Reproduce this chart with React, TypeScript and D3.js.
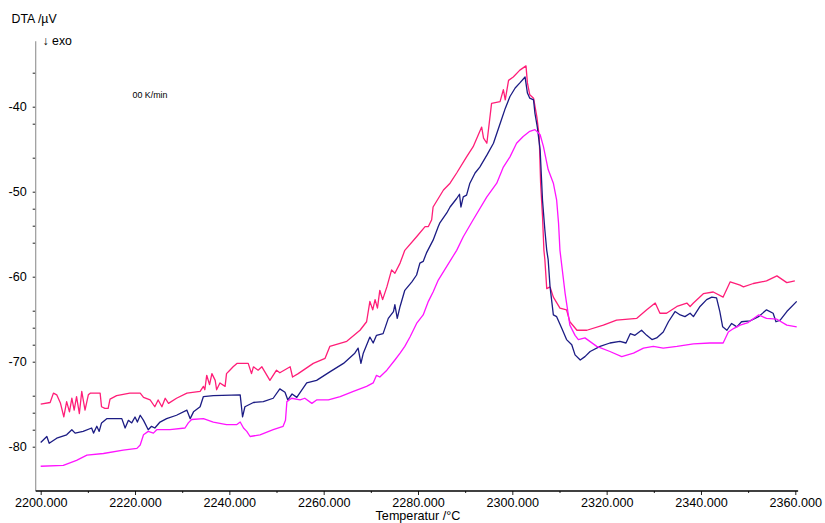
import React, { useEffect, useRef } from "react";
import * as d3 from "d3";

type Pt = [number, number];

const xTicks = [2200, 2220, 2240, 2260, 2280, 2300, 2320, 2340, 2360];
const xMinorTicks = [2210, 2230, 2250, 2270, 2290, 2310, 2330, 2350];
const yTicks = [-40, -50, -60, -70, -80];
const yMinorTicks = [-36, -42, -46, -52, -54, -56, -64, -66, -68, -74, -76, -78];

// run 1 (crimson)
const run1: Pt[] = [
  [2200.0, -75.0], [2202.0, -74.8], [2202.7, -73.7], [2203.4, -73.9], [2204.2, -74.9], [2204.9, -76.5],
  [2205.5, -74.7], [2206.1, -75.9], [2206.6, -74.3], [2207.1, -75.7], [2207.6, -74.1], [2208.2, -76.1],
  [2208.7, -73.5], [2209.4, -75.7], [2210.1, -73.9], [2210.5, -73.7], [2212.6, -73.7], [2212.9, -75.3],
  [2213.6, -75.5], [2214.3, -75.5], [2214.7, -74.4], [2216.1, -74.0], [2218.9, -73.7], [2221.1, -73.7],
  [2221.8, -74.2], [2223.2, -74.5], [2224.2, -75.3], [2224.9, -74.5], [2225.7, -75.3], [2226.4, -74.3],
  [2227.1, -74.9], [2228.8, -74.3], [2231.0, -73.7], [2233.8, -73.5], [2234.5, -72.9], [2234.8, -73.3],
  [2235.2, -71.6], [2235.8, -72.7], [2236.3, -71.4], [2237.0, -72.2], [2237.3, -73.3], [2238.0, -72.5],
  [2239.1, -72.9], [2239.4, -71.4], [2240.1, -71.0], [2240.8, -70.6], [2241.6, -70.2], [2244.0, -70.2],
  [2244.7, -71.4], [2245.1, -70.6], [2246.1, -71.0], [2246.9, -70.6], [2248.6, -72.2], [2250.0, -71.0],
  [2250.7, -71.3], [2252.9, -70.6], [2253.4, -71.8], [2254.6, -71.4], [2257.8, -70.2], [2260.3, -69.6],
  [2261.3, -68.2], [2264.9, -67.6], [2267.7, -66.3], [2269.1, -65.3], [2269.8, -62.9], [2270.4, -63.9],
  [2270.9, -62.7], [2271.4, -63.7], [2271.9, -61.6], [2272.5, -62.7], [2273.4, -61.2], [2274.4, -59.2],
  [2275.1, -59.6], [2276.2, -58.4], [2277.2, -56.9], [2279.7, -55.3], [2281.5, -54.1], [2282.2, -54.1],
  [2282.9, -53.3], [2283.2, -51.8], [2285.4, -49.8], [2286.8, -49.0], [2288.2, -47.8], [2290.3, -45.9],
  [2291.7, -44.7], [2293.5, -42.4], [2293.9, -43.7], [2294.6, -44.3], [2295.6, -39.6], [2297.4, -39.4],
  [2298.1, -38.0], [2298.5, -39.2], [2299.2, -36.9], [2300.2, -36.5], [2301.6, -35.7], [2302.9, -35.2],
  [2303.2, -37.2], [2303.7, -38.6], [2304.5, -39.0], [2305.2, -41.2], [2305.7, -43.5], [2306.0, -49.0],
  [2306.4, -52.9], [2306.7, -56.9], [2306.9, -58.0], [2307.3, -61.4], [2308.0, -61.2], [2308.7, -62.4],
  [2310.1, -63.7], [2311.5, -63.9], [2312.2, -65.3], [2313.7, -66.3], [2315.8, -66.3], [2319.3, -65.7],
  [2322.1, -65.1], [2326.4, -64.9], [2328.5, -63.9], [2330.3, -63.1], [2331.3, -64.3], [2332.7, -64.3],
  [2334.9, -63.5], [2337.0, -63.1], [2337.7, -63.5], [2338.4, -63.1], [2340.5, -62.0], [2342.6, -61.8],
  [2344.7, -62.4], [2346.2, -60.6], [2348.3, -61.0], [2349.0, -61.2], [2351.1, -60.8], [2353.9, -60.5],
  [2356.1, -59.9], [2358.2, -60.7], [2359.9, -60.5],
];

// run 2 (navy)
const run2: Pt[] = [
  [2200.0, -79.5], [2201.3, -78.8], [2201.8, -79.6], [2203.4, -79.0], [2205.5, -78.6], [2206.6, -78.0],
  [2207.3, -78.4], [2209.0, -78.2], [2210.8, -77.8], [2211.2, -78.4], [2211.9, -77.6], [2212.4, -78.2],
  [2212.9, -77.2], [2214.0, -76.7], [2217.2, -76.7], [2217.9, -77.8], [2218.6, -76.9], [2219.3, -77.2],
  [2220.0, -76.5], [2220.5, -77.1], [2221.1, -76.3], [2221.8, -76.9], [2222.8, -78.0], [2223.5, -77.6],
  [2224.2, -77.8], [2225.3, -77.1], [2226.7, -76.7], [2228.8, -76.3], [2231.0, -75.7], [2231.7, -76.7],
  [2232.4, -75.9], [2233.8, -75.3], [2234.5, -74.1], [2236.6, -74.0], [2242.3, -73.9], [2242.8, -76.5],
  [2243.3, -75.3], [2245.1, -74.8], [2247.2, -74.7], [2249.3, -74.3], [2250.7, -73.2], [2251.8, -73.6],
  [2252.4, -74.5], [2253.3, -73.8], [2254.3, -74.2], [2256.4, -72.5], [2258.5, -72.2], [2261.3, -71.2],
  [2264.2, -70.2], [2266.6, -69.0], [2267.3, -68.4], [2267.9, -70.2], [2268.4, -69.0], [2269.8, -67.1],
  [2270.5, -67.8], [2271.2, -66.9], [2272.6, -66.7], [2273.7, -64.9], [2274.8, -64.1], [2275.1, -63.3],
  [2275.6, -64.9], [2276.2, -63.5], [2277.2, -61.6], [2278.7, -60.6], [2279.7, -59.8], [2280.4, -58.4],
  [2281.1, -58.2], [2281.8, -57.2], [2283.2, -55.7], [2284.3, -54.1], [2284.6, -53.7], [2286.1, -52.5],
  [2286.8, -51.8], [2288.2, -50.8], [2288.8, -50.3], [2289.1, -51.8], [2289.6, -50.6], [2290.3, -50.4],
  [2291.0, -49.0], [2292.1, -47.8], [2293.1, -47.1], [2294.6, -45.7], [2296.0, -44.3], [2297.4, -42.0],
  [2298.5, -40.2], [2299.5, -38.8], [2300.6, -37.8], [2301.6, -37.2], [2302.7, -36.5], [2303.2, -38.4],
  [2303.7, -39.0], [2304.5, -39.2], [2304.8, -40.8], [2305.3, -42.4], [2305.9, -45.1], [2306.4, -51.0],
  [2306.9, -54.5], [2307.3, -56.9], [2307.6, -58.0], [2308.0, -61.2], [2308.7, -64.5], [2309.4, -64.7],
  [2310.5, -66.1], [2311.5, -67.4], [2312.6, -68.0], [2313.3, -69.2], [2314.4, -69.8], [2315.4, -69.4],
  [2316.5, -68.8], [2318.6, -68.2], [2320.7, -67.8], [2322.8, -67.6], [2324.1, -67.8], [2325.0, -66.7],
  [2326.0, -66.9], [2327.4, -66.3], [2328.5, -66.9], [2329.6, -67.4], [2330.6, -67.2], [2332.0, -66.5],
  [2333.1, -65.3], [2334.5, -64.1], [2335.6, -64.5], [2336.6, -64.7], [2337.7, -64.3], [2338.4, -64.7],
  [2339.8, -63.5], [2341.2, -62.7], [2342.3, -62.4], [2343.3, -62.5], [2344.0, -64.1], [2344.6, -65.9],
  [2345.5, -66.3], [2346.5, -65.5], [2347.6, -65.9], [2348.6, -65.3], [2350.4, -65.2], [2352.2, -64.7],
  [2353.9, -63.9], [2355.3, -64.3], [2355.9, -65.3], [2356.8, -65.1], [2358.2, -64.1], [2360.3, -62.9],
];

// run 3 (magenta)
const run3: Pt[] = [
  [2200.0, -82.3], [2204.8, -82.2], [2207.6, -81.6], [2209.8, -81.0], [2213.3, -80.8], [2217.5, -80.4],
  [2220.4, -80.2], [2221.1, -79.8], [2221.8, -78.6], [2222.8, -78.2], [2223.9, -78.4], [2224.6, -78.0],
  [2227.4, -78.0], [2230.6, -77.8], [2231.3, -77.2], [2232.0, -76.8], [2234.5, -76.7], [2236.6, -77.1],
  [2239.4, -77.4], [2241.6, -77.4], [2242.3, -77.1], [2243.0, -77.8], [2243.7, -78.2], [2244.4, -78.8],
  [2246.5, -78.6], [2249.3, -78.0], [2251.4, -77.6], [2251.9, -76.9], [2252.2, -74.7], [2253.2, -74.3],
  [2255.0, -74.5], [2256.0, -74.3], [2257.5, -74.9], [2258.5, -74.5], [2261.0, -74.5], [2263.5, -74.1],
  [2266.3, -73.5], [2269.1, -72.9], [2270.5, -72.5], [2271.2, -71.6], [2271.9, -71.8], [2273.4, -71.0],
  [2275.1, -69.8], [2276.2, -69.0], [2277.2, -68.2], [2278.3, -67.1], [2279.7, -65.5], [2281.1, -64.5],
  [2282.2, -62.9], [2283.2, -61.8], [2284.3, -60.4], [2288.2, -56.9], [2289.6, -55.3], [2291.7, -53.3],
  [2294.6, -50.6], [2296.7, -49.0], [2298.1, -47.1], [2299.5, -45.9], [2300.9, -44.3], [2302.3, -43.5],
  [2303.7, -42.9], [2304.8, -42.7], [2305.9, -43.3], [2306.6, -44.7], [2307.6, -47.4], [2308.7, -49.0],
  [2309.4, -51.0], [2309.8, -53.7], [2310.1, -56.9], [2311.2, -62.0], [2312.2, -65.7], [2313.3, -66.9],
  [2314.0, -67.4], [2315.4, -67.2], [2317.9, -68.2], [2320.7, -68.8], [2323.2, -69.4], [2325.7, -69.0],
  [2327.8, -68.4], [2329.9, -68.2], [2332.0, -68.4], [2334.9, -68.2], [2338.4, -67.9], [2341.9, -67.8],
  [2344.7, -67.8], [2345.8, -66.5], [2346.9, -66.1], [2348.3, -65.7], [2350.0, -65.4], [2352.2, -64.5],
  [2353.9, -64.9], [2356.1, -65.0], [2358.2, -65.7], [2360.3, -65.9],
];

const series = [
  { name: "run1", color: "#ff1e78", data: run1 },
  { name: "run2", color: "#1c1c84", data: run2 },
  { name: "run3", color: "#ff14ff", data: run3 },
];

const FONT = "'Liberation Sans', Arial, sans-serif";

export default function App() {
  const ref = useRef<SVGSVGElement>(null);

  useEffect(() => {
    const width = 825;
    const height = 523;
    const svg = d3.select(ref.current);
    svg.selectAll("*").remove();

    const x = d3.scaleLinear().domain([2200, 2360]).range([40.7, 795.3]);
    const y = d3.scaleLinear().domain([-40, -80]).range([106.7, 446.7]);
    const axisX = 35.7; // left axis position
    const axisY = 491; // bottom axis position
    const yTop = y(-32.3);

    // y axis
    const gy = svg.append("g").attr("transform", `translate(${axisX},0)`);
    gy.call(d3.axisLeft(y).tickValues(yTicks).tickSize(3).tickPadding(6).tickFormat(d => String(d)))
    gy.append("g").call(d3.axisLeft(y).tickValues(yMinorTicks).tickSize(3).tickFormat(() => ""));
    gy.selectAll(".domain").remove();
    gy.selectAll("line").attr("stroke", "#222");
    gy.selectAll("text")
      .attr("font-family", FONT)
      .attr("font-size", 12.6)
      .attr("fill", "#000");
    gy.append("line")
      .attr("x1", 0).attr("x2", 0)
      .attr("y1", yTop).attr("y2", axisY)
      .attr("stroke", "#9a9a9a").attr("stroke-width", 1.2);

    // x axis
    const gx = svg.append("g").attr("transform", `translate(0,${axisY})`);
    gx.call(d3.axisBottom(x).tickValues(xTicks).tickSize(4).tickPadding(3).tickFormat(d3.format(".3f")));
    gx.append("g").call(d3.axisBottom(x).tickValues(xMinorTicks).tickSize(2).tickFormat(() => ""));
    gx.selectAll(".domain").remove();
    gx.selectAll("line").attr("stroke", "#222");
    gx.selectAll("text")
      .attr("font-family", FONT)
      .attr("font-size", 12.6)
      .attr("fill", "#000");
    gx.append("line")
      .attr("x1", axisX).attr("x2", x(2360.6))
      .attr("y1", 0).attr("y2", 0)
      .attr("stroke", "#000").attr("stroke-width", 1.4);

    // curves
    const line = d3.line<Pt>().x(d => x(d[0])).y(d => y(d[1]));
    svg.append("g")
      .selectAll("path")
      .data(series)
      .join("path")
      .attr("fill", "none")
      .attr("stroke", d => d.color)
      .attr("stroke-width", 1.3)
      .attr("stroke-linejoin", "round")
      .attr("d", d => line(d.data));

    // labels
    const txt = svg.append("g").attr("font-family", FONT).attr("fill", "#000");
    txt.append("text").attr("x", 11.5).attr("y", 23).attr("font-size", 12.3).text("DTA /µV");
    txt.append("text").attr("x", 42.5).attr("y", 45).attr("font-size", 12.3).text("↓ exo");
    txt.append("text").attr("x", 132.5).attr("y", 98).attr("font-size", 8.9).text("00 K/min");
    txt.append("text")
      .attr("x", x(2280)).attr("y", 520)
      .attr("text-anchor", "middle")
      .attr("font-size", 12.6)
      .text("Temperatur /°C");

    svg.attr("width", width).attr("height", height);
  }, []);

  return (
    <svg
      ref={ref}
      width={825}
      height={523}
      style={{ position: "absolute", left: 0, top: 0, background: "#fff" }}
    />
  );
}
